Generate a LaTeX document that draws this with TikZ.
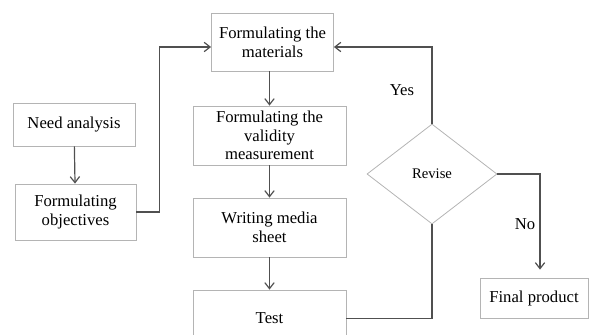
\documentclass[tikz,border=0pt]{standalone}
\usepackage{fontspec}
\setmainfont{Liberation Serif}
\usetikzlibrary{shapes.geometric,arrows.meta}
\definecolor{boxgray}{HTML}{B4B4B4}
\definecolor{linegray}{HTML}{505050}
\begin{document}
\begin{tikzpicture}[x=0.75pt,y=-0.75pt,
    stepbox/.style={draw=boxgray, line width=0.6pt, align=center, inner sep=1pt,
        font=\fontsize{12.5}{14}\selectfont},
    decide/.style={draw=boxgray, line width=0.6pt, shape=diamond, inner sep=0pt,
        minimum width=97.5pt, minimum height=75pt, font=\fontsize{11}{12}\selectfont},
    arr/.style={draw=linegray, line width=0.9pt, -{Straight Barb[length=4.5pt,width=7pt]}},
    link/.style={draw=linegray, line width=0.9pt},
    lbl/.style={font=\fontsize{12.5}{14}\selectfont}]
    \useasboundingbox (0,0) rectangle (589,335);

    % Drawing the boxes
    \node[stepbox, minimum width=91.5pt, minimum height=43.5pt] (mat) at (272.5,42) {Formulating the\\materials};
    \node[stepbox, minimum width=91.5pt, minimum height=32.25pt] (need) at (74,124.5) {Need analysis};
    \node[stepbox, minimum width=90.75pt, minimum height=42pt] (obj) at (75.5,212) {Formulating\\objectives};
    \node[stepbox, minimum width=114.75pt, minimum height=44.25pt] (val) at (269.5,135.5) {Formulating the\\validity\\measurement};
    \node[stepbox, minimum width=114.75pt, minimum height=44.25pt] (media) at (269.5,227.5) {Writing media\\sheet};
    \node[stepbox, minimum width=114.75pt, minimum height=44.25pt] (test) at (269.5,319.5) {\raisebox{1.5pt}{Test}};
    \node[decide] (rev) at (432,174) {Revise};
    \node[stepbox, minimum width=81pt, minimum height=30pt] (final) at (534,298) {Final product};

    % Drawing the connectors
    \draw[arr] (need) -- (obj);
    \draw[arr] (obj.east) -- ++(23,0) |- ([yshift=-3.75pt]mat.west);
    \draw[arr] (mat.south -| val.north) -- (val.north);
    \draw[arr] (val) -- (media);
    \draw[arr] (media) -- (test);
    \draw[link] ([yshift=1pt]test.east) -| (rev.south);
    \draw[arr] (rev.north) |- ([yshift=-3.75pt]mat.east);
    \draw[arr] (rev.east) -| ([xshift=4.5pt,yshift=6pt]final.north);

    % Adding labels
    \node[lbl] (yes) at (402,90) {Yes};
    \node[lbl] (no) at (525,224) {No};
\end{tikzpicture}
\end{document}
